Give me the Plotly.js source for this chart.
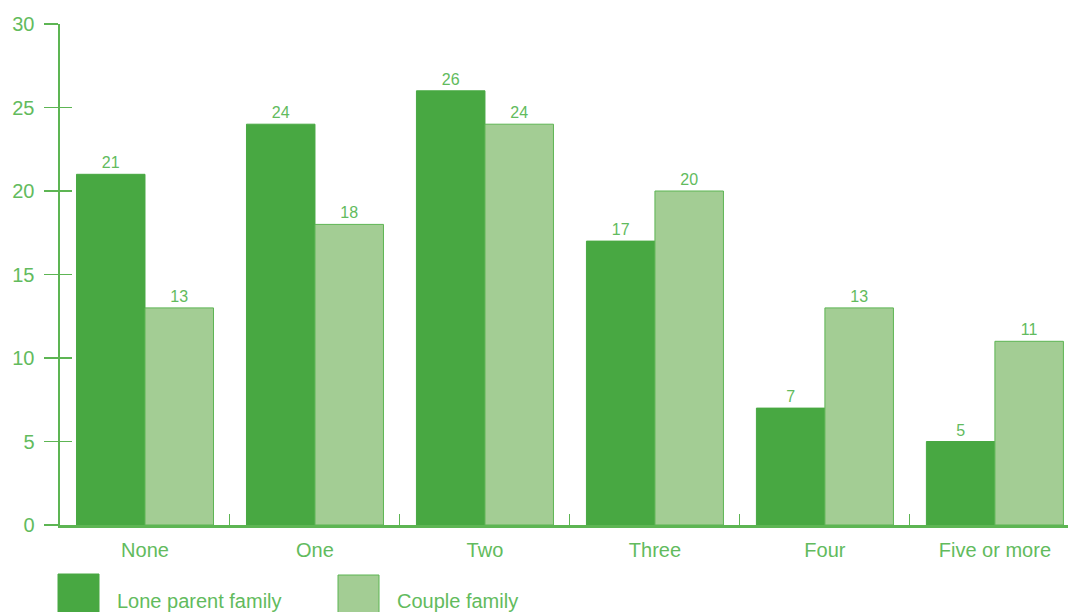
<!DOCTYPE html>
<html>
<head>
<meta charset="utf-8">
<script src="https://cdn.plot.ly/plotly-3.0.1.min.js"></script>
<style>html,body{margin:0;padding:0;background:#fff;}#chart{width:1070px;height:612px;}</style>
</head>
<body>
<div id="chart"></div>
<script>
const categories = ["None", "One", "Two", "Three", "Four", "Five or more"];
const seriesNames = ["Lone parent family", "Couple family"];
const loneParent = [21, 24, 26, 17, 7, 5];
const couple = [13, 18, 24, 20, 13, 11];
const yTicks = [0, 5, 10, 15, 20, 25, 30];

const DARK = "#48a842";
const LIGHT = "#a3cd94";
const LINE = "#5db553";
const TEXT = "#62bb5d";
const FONT = "Liberation Sans, Arial, sans-serif";

const traces = [
  {
    type: "bar", name: seriesNames[0], x: categories, y: loneParent,
    marker: {color: DARK, line: {color: DARK, width: 1}},
    text: loneParent.map(String), textposition: "outside", cliponaxis: false,
    textfont: {family: FONT, size: 16, color: TEXT}, hoverinfo: "x+y"
  },
  {
    type: "bar", name: seriesNames[1], x: categories, y: couple,
    marker: {color: LIGHT, line: {color: LINE, width: 1}},
    text: couple.map(String), textposition: "outside", cliponaxis: false,
    textfont: {family: FONT, size: 16, color: TEXT}, hoverinfo: "x+y"
  },
  // empty helper trace so the overlaying axis (inner half of the y ticks) is drawn
  {type: "scatter", mode: "markers", x: [], y: [], yaxis: "y2", showlegend: false, hoverinfo: "skip"}
];

// legend drawn in paper coordinates (plot area 60..1068 px wide, 24..525 px high)
const pw = 1008, ph = 501;
const px = v => (v - 60) / pw;
const py = v => (525 - v) / ph;

const layout = {
  width: 1070, height: 612,
  margin: {l: 60, r: 2, t: 24, b: 87},
  paper_bgcolor: "#fff", plot_bgcolor: "#fff",
  showlegend: false,
  barmode: "group", bargap: 0.194, bargroupgap: 0,
  font: {family: FONT, color: TEXT},
  xaxis: {
    type: "category", range: [-0.5, 5.43],
    showline: true, linecolor: LINE, linewidth: 2.5,
    ticks: "inside", tickson: "boundaries", ticklen: 11, tickcolor: LINE, tickwidth: 1,
    ticklabelstandoff: 5,
    tickfont: {family: FONT, size: 20, color: TEXT},
    showgrid: false, zeroline: false, fixedrange: true
  },
  yaxis: {
    range: [0, 30], tickvals: yTicks, ticktext: yTicks.map(String),
    showline: true, linecolor: LINE, linewidth: 2.5,
    ticks: "outside", ticklen: 14, tickcolor: LINE, tickwidth: 1.5,
    ticklabelstandoff: 5,
    tickfont: {family: FONT, size: 20, color: TEXT},
    showgrid: false, zeroline: false, fixedrange: true
  },
  yaxis2: {
    overlaying: "y", anchor: "x", side: "left", range: [0, 30], tickvals: yTicks,
    showticklabels: false, showline: false,
    ticks: "inside", ticklen: 12, tickcolor: LINE, tickwidth: 1.5,
    showgrid: false, zeroline: false, fixedrange: true
  },
  shapes: [
    {type: "rect", xref: "paper", yref: "paper", x0: px(58), x1: px(99), y0: py(614), y1: py(574),
     fillcolor: DARK, line: {color: DARK, width: 1}},
    {type: "rect", xref: "paper", yref: "paper", x0: px(338), x1: px(379), y0: py(614), y1: py(575),
     fillcolor: LIGHT, line: {color: LINE, width: 1}}
  ],
  annotations: [
    {xref: "paper", yref: "paper", x: px(115), y: py(601), xanchor: "left", yanchor: "middle",
     text: seriesNames[0], showarrow: false, font: {family: FONT, size: 20, color: TEXT}},
    {xref: "paper", yref: "paper", x: px(395), y: py(601), xanchor: "left", yanchor: "middle",
     text: seriesNames[1], showarrow: false, font: {family: FONT, size: 20, color: TEXT}}
  ]
};

Plotly.newPlot("chart", traces, layout, {displayModeBar: false, staticPlot: true});
</script>
</body>
</html>
